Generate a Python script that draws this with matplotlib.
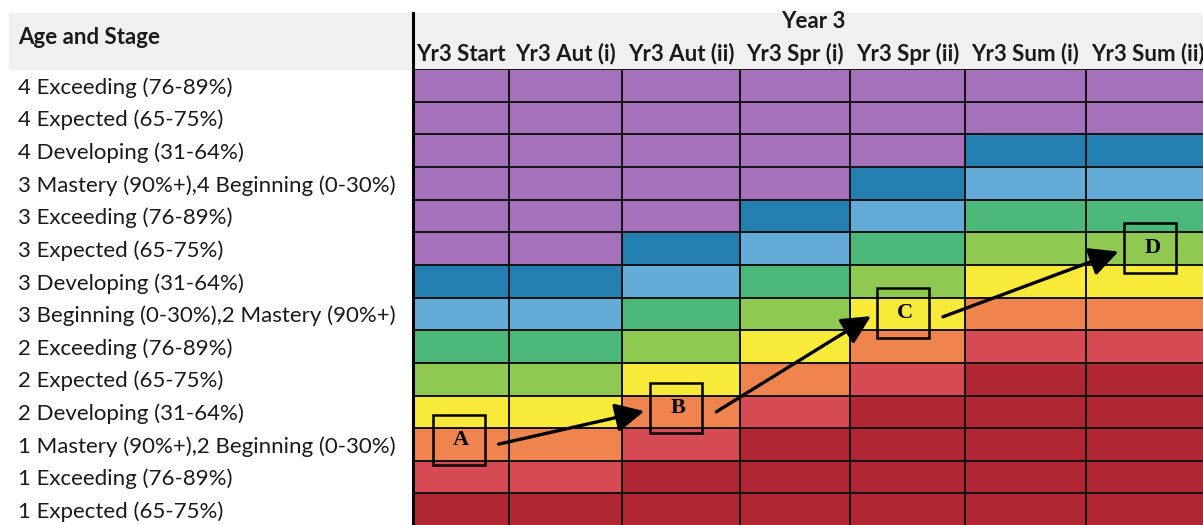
import numpy as np
import matplotlib
matplotlib.use("Agg")
import matplotlib.pyplot as plt
from matplotlib.colors import ListedColormap
from matplotlib.patches import Rectangle
from matplotlib.lines import Line2D

plt.rcParams['font.family'] = ['Lato', 'DejaVu Sans']

# ---- data ----
row_labels = [
    "4 Exceeding (76-89%)",
    "4 Expected (65-75%)",
    "4 Developing (31-64%)",
    "3 Mastery (90%+),4 Beginning (0-30%)",
    "3 Exceeding (76-89%)",
    "3 Expected (65-75%)",
    "3 Developing (31-64%)",
    "3 Beginning (0-30%),2 Mastery (90%+)",
    "2 Exceeding (76-89%)",
    "2 Expected (65-75%)",
    "2 Developing (31-64%)",
    "1 Mastery (90%+),2 Beginning (0-30%)",
    "1 Exceeding (76-89%)",
    "1 Expected (65-75%)",
]
col_labels = ["Yr3 Start", "Yr3 Aut (i)", "Yr3 Aut (ii)", "Yr3 Spr (i)",
              "Yr3 Spr (ii)", "Yr3 Sum (i)", "Yr3 Sum (ii)"]

# band code per cell (0 = above expected ... 8 = well below)
bands = [
    [0, 0, 0, 0, 0, 0, 0],
    [0, 0, 0, 0, 0, 0, 0],
    [0, 0, 0, 0, 0, 1, 1],
    [0, 0, 0, 0, 1, 2, 2],
    [0, 0, 0, 1, 2, 3, 3],
    [0, 0, 1, 2, 3, 4, 4],
    [1, 1, 2, 3, 4, 5, 5],
    [2, 2, 3, 4, 5, 6, 6],
    [3, 3, 4, 5, 6, 7, 7],
    [4, 4, 5, 6, 7, 8, 8],
    [5, 5, 6, 7, 8, 8, 8],
    [6, 6, 7, 8, 8, 8, 8],
    [7, 7, 8, 8, 8, 8, 8],
    [8, 8, 8, 8, 8, 8, 8],
]
band_colors = ["#A571BA", "#237FAF", "#64ABD8", "#4BB87A", "#8FC952",
               "#F7EA38", "#F0844E", "#D64A53", "#B02632"]

# pupil checkpoints A-D (column position, row position)
marker_labels = ["A", "B", "C", "D"]
marker_cols = [0.48, 2.46, 4.46, 6.52]
marker_rows = [11.37, 10.38, 7.47, 5.49]

# ---- layout ----
W, H = 1203, 525
col_widths = [97, 113, 118, 110, 115, 121, 124]
row_h = 32.65
grid_top = 69
fs = 16


def fx(px):
    return px / W


def fy(py):
    return 1 - py / H


fig = plt.figure(figsize=(W / 100, H / 100), dpi=100)

# grey header band
fig.add_artist(Rectangle((fx(9), fy(70)), fx(412) - fx(9), (70 - 13) / H,
                         transform=fig.transFigure, color="#F0F0F0", lw=0, zorder=0))
fig.add_artist(Rectangle((fx(412), fy(69)), 1 - fx(412), (69 - 13) / H,
                         transform=fig.transFigure, color="#F0F0F0", lw=0, zorder=0))

ax = fig.add_axes([fx(412), 0, 1 - fx(412), (H - grid_top) / H])
x_edges = np.concatenate([[0], np.cumsum(col_widths)])
y_edges = np.arange(len(row_labels) + 1)
cmap = ListedColormap(band_colors)
ax.pcolormesh(x_edges, y_edges, np.array(bands), cmap=cmap, vmin=-0.5, vmax=8.5,
              edgecolors="#151515", linewidth=1.1)
ax.set_xlim(0, W - 412)
ax.set_ylim((H - grid_top) / row_h, 0)
for s in ax.spines.values():
    s.set_visible(False)

# row labels on the left
ax.set_yticks(np.arange(len(row_labels)) + 0.5)
ax.set_yticklabels(row_labels, ha="left", fontsize=fs, color="#1a1a1a")
ax.tick_params(axis="y", length=0, pad=(412 - 18) * 0.72)

# column headers on top
col_centers = (x_edges[:-1] + x_edges[1:]) / 2
ax.xaxis.tick_top()
ax.set_xticks(col_centers)
ax.set_xticklabels(col_labels, fontsize=fs, fontweight="bold", color="#1a1a1a")
ax.tick_params(axis="x", length=0, pad=3)

fig.text(fx(18), fy(37), "Age and Stage", fontsize=fs, fontweight="bold",
         va="center", ha="left", color="#1a1a1a")
fig.text(fx(813), fy(22), "Year 3", fontsize=fs, fontweight="bold",
         va="center", ha="center", color="#1a1a1a")

# thick divider
fig.add_artist(Line2D([fx(412.5), fx(412.5)], [fy(13), 0], color="black", lw=2.2,
                      transform=fig.transFigure))

# checkpoint boxes and arrows
box_w = 52
box_h = 50 / row_h
mx = np.interp(marker_cols, np.arange(len(col_widths) + 1), x_edges)
for lab, x, y in zip(marker_labels, mx, marker_rows):
    ax.add_patch(Rectangle((x - box_w / 2, y - box_h / 2), box_w, box_h,
                           fill=False, ec="black", lw=1.8, zorder=5))
    ax.text(x + 2, y, lab, fontsize=16, fontweight="bold", family="Liberation Serif",
            ha="center", va="center", zorder=6)

for i in range(len(marker_labels) - 1):
    start = (mx[i] + box_w / 2 + 14, marker_rows[i] + 0.12)
    end = (mx[i + 1] - box_w / 2 - 6, marker_rows[i + 1] + 0.1)
    ax.annotate("", xy=end, xytext=start,
                arrowprops=dict(arrowstyle="-|>,head_length=0.8,head_width=0.4",
                                lw=2.4, color="black", shrinkA=0, shrinkB=0,
                                mutation_scale=22), zorder=6)

fig.savefig("out.png", dpi=100)
